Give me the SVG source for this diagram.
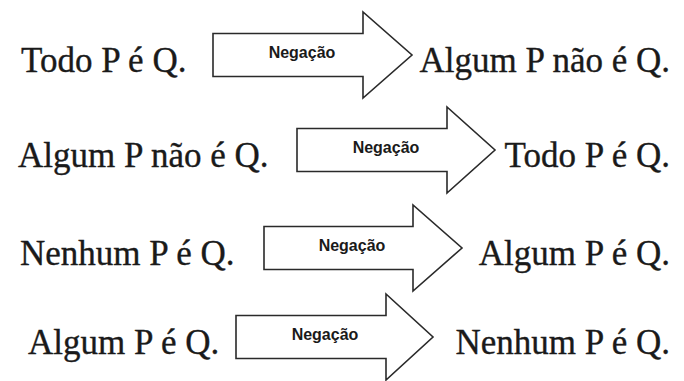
<svg xmlns="http://www.w3.org/2000/svg" width="684" height="381" viewBox="0 0 684 381">
<style>
.t{font-family:"Liberation Serif","Times New Roman",serif;font-size:35px;fill:#1a1a1a;stroke:#1a1a1a;stroke-width:0.35}
.n{font-family:"Liberation Sans",Arial,sans-serif;font-size:16px;font-weight:bold;fill:#1a1a1a;text-anchor:middle}
.a{fill:#ffffff;stroke:#2a2a2a;stroke-width:1.6;stroke-linejoin:miter}
.r{text-anchor:end}
</style>
<rect width="684" height="381" fill="#ffffff"/>
<g id="row1">
<g id="n1a"><text class="t" x="21" y="72">Todo P é Q.</text></g>
<g id="n1b"><text class="t r" x="670" y="72">Algum P não é Q.</text></g>
</g>
<g id="row2">
<g id="n2a"><text class="t" x="18" y="167">Algum P não é Q.</text></g>
<g id="n2b"><text class="t r" x="670" y="167">Todo P é Q.</text></g>
</g>
<g id="row3">
<g id="n3a"><text class="t" x="20" y="265">Nenhum P é Q.</text></g>
<g id="n3b"><text class="t r" x="670" y="265">Algum P é Q.</text></g>
</g>
<g id="row4">
<g id="n4a"><text class="t" x="28" y="354">Algum P é Q.</text></g>
<g id="n4b"><text class="t r" x="670" y="354">Nenhum P é Q.</text></g>
</g>
<g id="connectors">
<g id="arrow1"><polygon class="a" points="213,33.5 363,33.5 363,12 412,55 363,98 363,76.5 213,76.5"/><text class="n" x="302" y="58">Negação</text></g>
<g id="arrow2"><polygon class="a" points="297,128.5 447,128.5 447,107 495,150 447,193 447,171.5 297,171.5"/><text class="n" x="386" y="153">Negação</text></g>
<g id="arrow3"><polygon class="a" points="264,226.5 413,226.5 413,205 462,248 413,291 413,269.5 264,269.5"/><text class="n" x="352" y="251">Negação</text></g>
<g id="arrow4"><polygon class="a" points="236,315.5 386,315.5 386,294 433,337 386,380 386,358.5 236,358.5"/><text class="n" x="325" y="340">Negação</text></g>
</g>
</svg>
